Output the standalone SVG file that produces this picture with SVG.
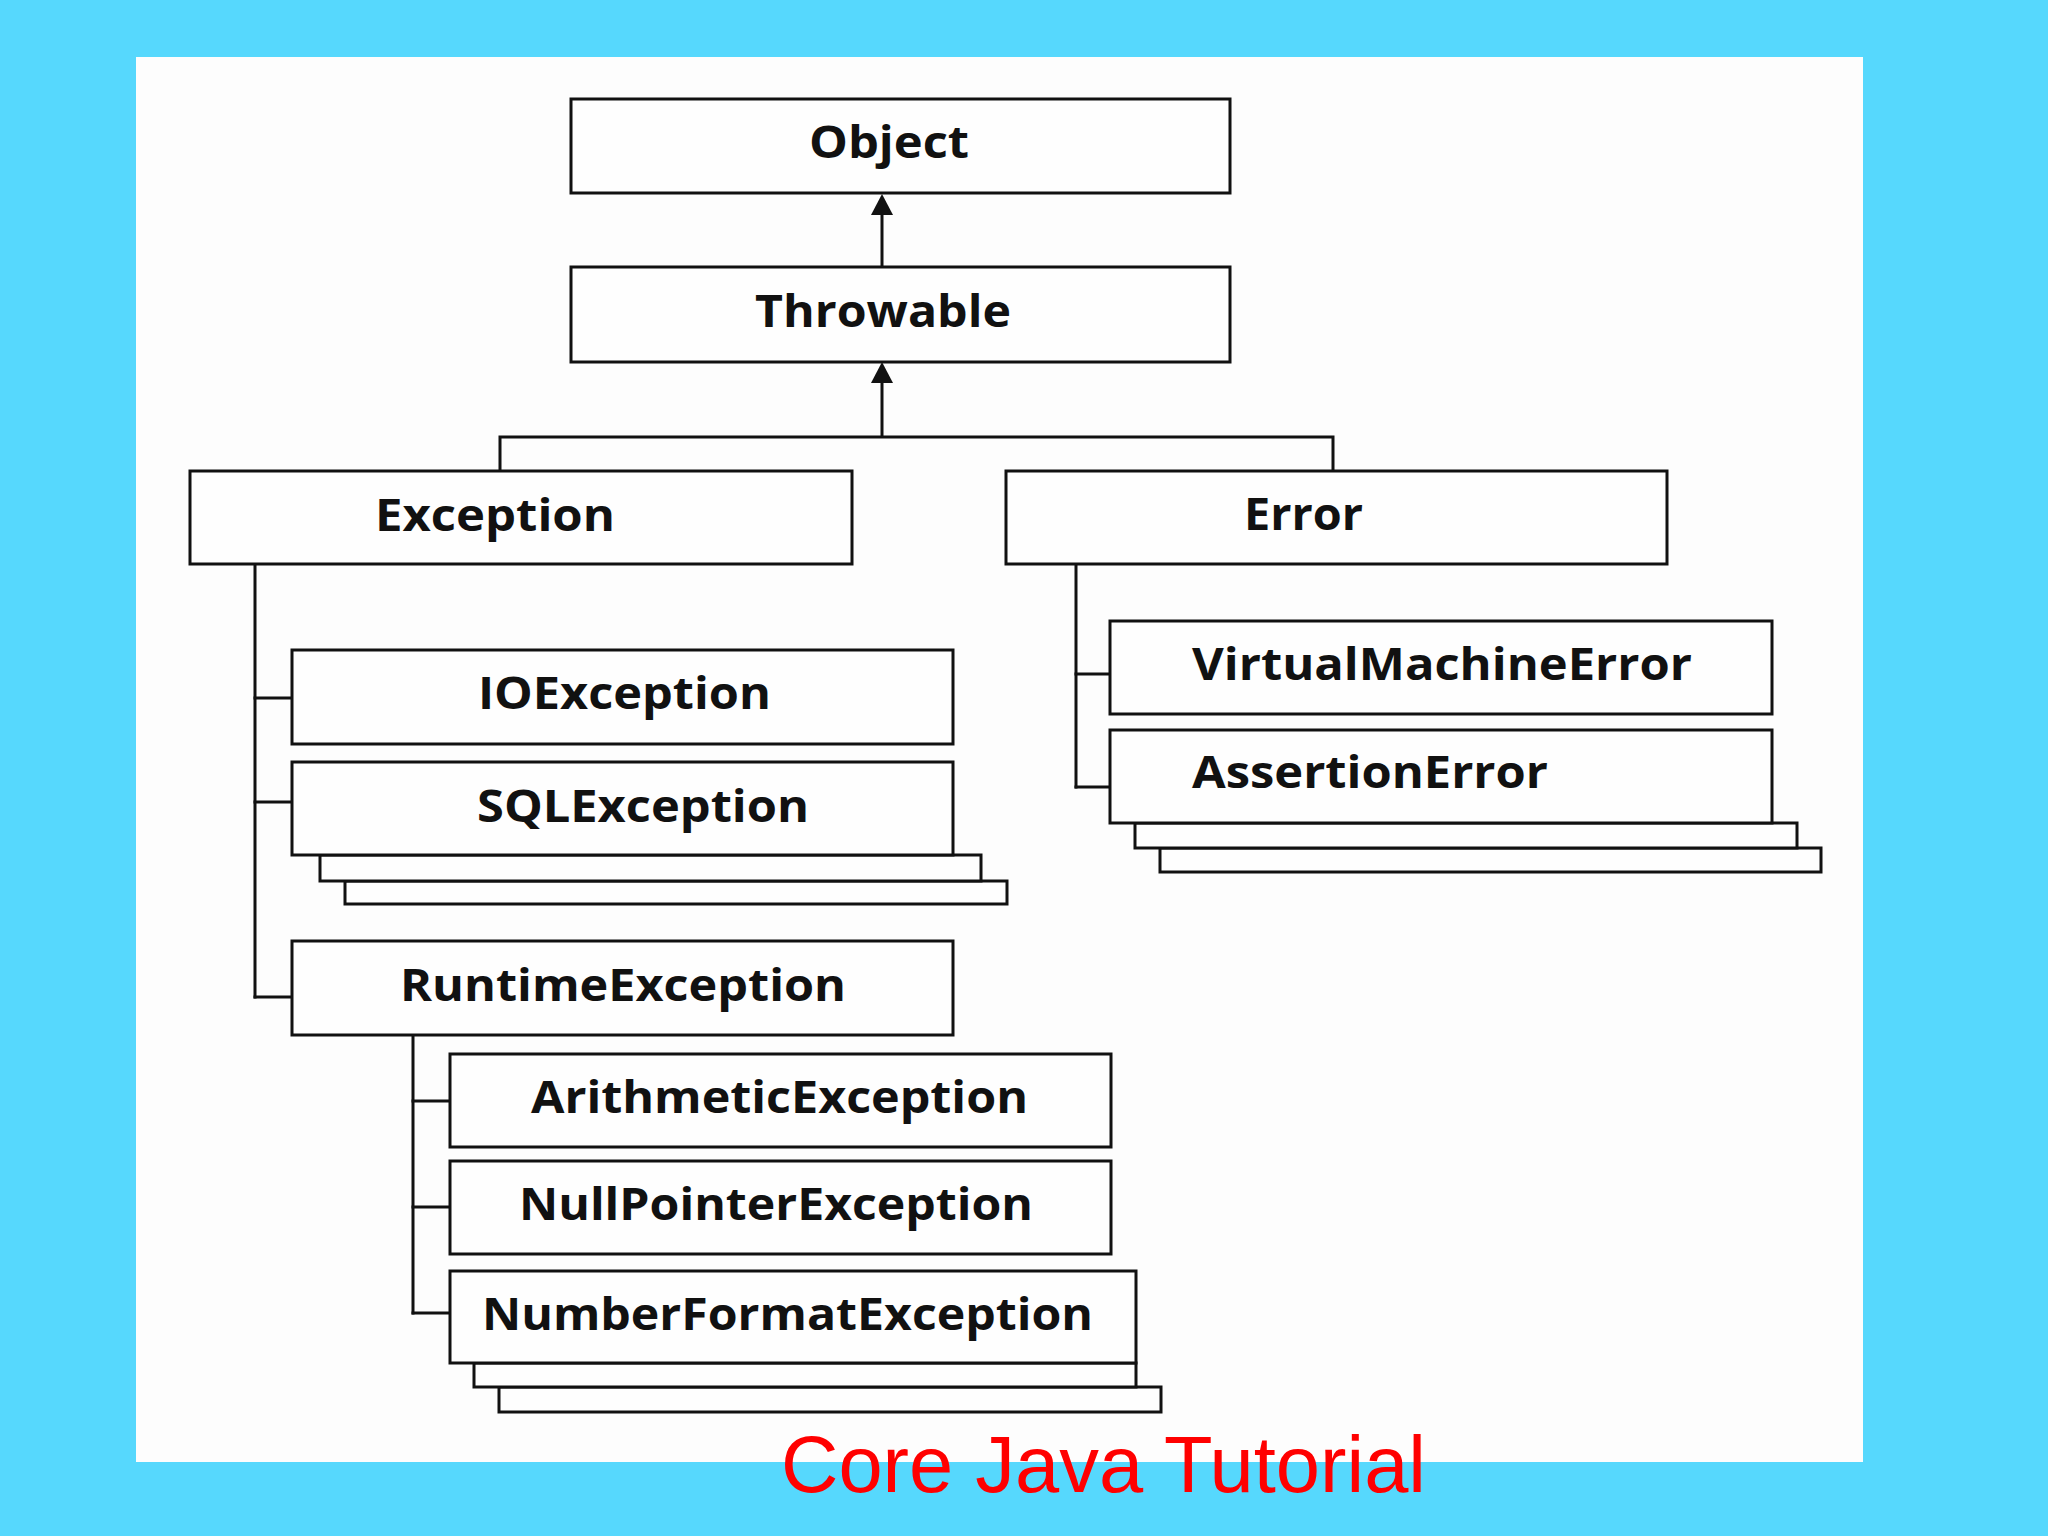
<svg xmlns="http://www.w3.org/2000/svg" width="2048" height="1536" viewBox="0 0 2048 1536">
<defs>
<style>
.box{fill:#fefefe;stroke:#111;stroke-width:3}
.lbl{font-family:"Open Sans","Liberation Sans",sans-serif;font-weight:700;font-size:44px;fill:#111}
.con{fill:none;stroke:#111;stroke-width:3}
.head{fill:#111}
.title{font-family:"Liberation Sans",Arial,sans-serif;font-size:80px;fill:#ff0000}
</style>
</defs>
<rect x="0" y="0" width="2048" height="1536" fill="#56d8fd"/>
<rect x="136" y="57" width="1727" height="1405" fill="#fdfdfd"/>

<g id="connectors">
<line class="con" x1="882" y1="267" x2="882" y2="212"/>
<polygon class="head" points="882,194 871,215 893,215"/>
<line class="con" x1="882" y1="437" x2="882" y2="380"/>
<polygon class="head" points="882,362 871,383 893,383"/>
<polyline class="con" points="500,471 500,437 1333,437 1333,471"/>
<line class="con" x1="255" y1="564" x2="255" y2="998.5"/>
<line class="con" x1="253.5" y1="698" x2="292" y2="698"/>
<line class="con" x1="253.5" y1="802" x2="292" y2="802"/>
<line class="con" x1="253.5" y1="997" x2="292" y2="997"/>
<line class="con" x1="1076" y1="564" x2="1076" y2="788.5"/>
<line class="con" x1="1074.5" y1="674" x2="1110" y2="674"/>
<line class="con" x1="1074.5" y1="787" x2="1110" y2="787"/>
<line class="con" x1="413" y1="1035" x2="413" y2="1314.5"/>
<line class="con" x1="411.5" y1="1101" x2="450" y2="1101"/>
<line class="con" x1="411.5" y1="1207" x2="450" y2="1207"/>
<line class="con" x1="411.5" y1="1313" x2="450" y2="1313"/>
</g>

<g id="object">
<rect class="box" x="571" y="99" width="659" height="94"/>
<text class="lbl" x="809" y="158" textLength="160" lengthAdjust="spacingAndGlyphs">Object</text>
</g>
<g id="throwable">
<rect class="box" x="571" y="267" width="659" height="95"/>
<text class="lbl" x="755" y="327" textLength="256" lengthAdjust="spacingAndGlyphs">Throwable</text>
</g>
<g id="exception">
<rect class="box" x="190" y="471" width="662" height="93"/>
<text class="lbl" x="375" y="531" textLength="240" lengthAdjust="spacingAndGlyphs">Exception</text>
</g>
<g id="error">
<rect class="box" x="1006" y="471" width="661" height="93"/>
<text class="lbl" x="1244" y="530" textLength="119" lengthAdjust="spacingAndGlyphs">Error</text>
</g>
<g id="ioexception">
<rect class="box" x="292" y="650" width="661" height="94"/>
<text class="lbl" x="478" y="709" textLength="293" lengthAdjust="spacingAndGlyphs">IOException</text>
</g>
<g id="sqlexception">
<rect class="box" x="345" y="881" width="662" height="23"/>
<rect class="box" x="320" y="855" width="661" height="26"/>
<rect class="box" x="292" y="762" width="661" height="93"/>
<text class="lbl" x="477" y="822" textLength="332" lengthAdjust="spacingAndGlyphs">SQLException</text>
</g>
<g id="runtimeexception">
<rect class="box" x="292" y="941" width="661" height="94"/>
<text class="lbl" x="400" y="1001" textLength="446" lengthAdjust="spacingAndGlyphs">RuntimeException</text>
</g>
<g id="virtualmachineerror">
<rect class="box" x="1110" y="621" width="662" height="93"/>
<text class="lbl" x="1192" y="680" textLength="500" lengthAdjust="spacingAndGlyphs">VirtualMachineError</text>
</g>
<g id="assertionerror">
<rect class="box" x="1160" y="848" width="661" height="24"/>
<rect class="box" x="1135" y="823" width="662" height="25"/>
<rect class="box" x="1110" y="730" width="662" height="93"/>
<text class="lbl" x="1192" y="788" textLength="356" lengthAdjust="spacingAndGlyphs">AssertionError</text>
</g>
<g id="arithmeticexception">
<rect class="box" x="450" y="1054" width="661" height="93"/>
<text class="lbl" x="531" y="1113" textLength="497" lengthAdjust="spacingAndGlyphs">ArithmeticException</text>
</g>
<g id="nullpointerexception">
<rect class="box" x="450" y="1161" width="661" height="93"/>
<text class="lbl" x="519" y="1220" textLength="514" lengthAdjust="spacingAndGlyphs">NullPointerException</text>
</g>
<g id="numberformatexception">
<rect class="box" x="499" y="1387" width="662" height="25"/>
<rect class="box" x="474" y="1363" width="662" height="24"/>
<rect class="box" x="450" y="1271" width="686" height="92"/>
<text class="lbl" x="482" y="1330" textLength="611" lengthAdjust="spacingAndGlyphs">NumberFormatException</text>
</g>

<text class="title" x="781" y="1492" textLength="645" lengthAdjust="spacingAndGlyphs">Core Java Tutorial</text>
</svg>
